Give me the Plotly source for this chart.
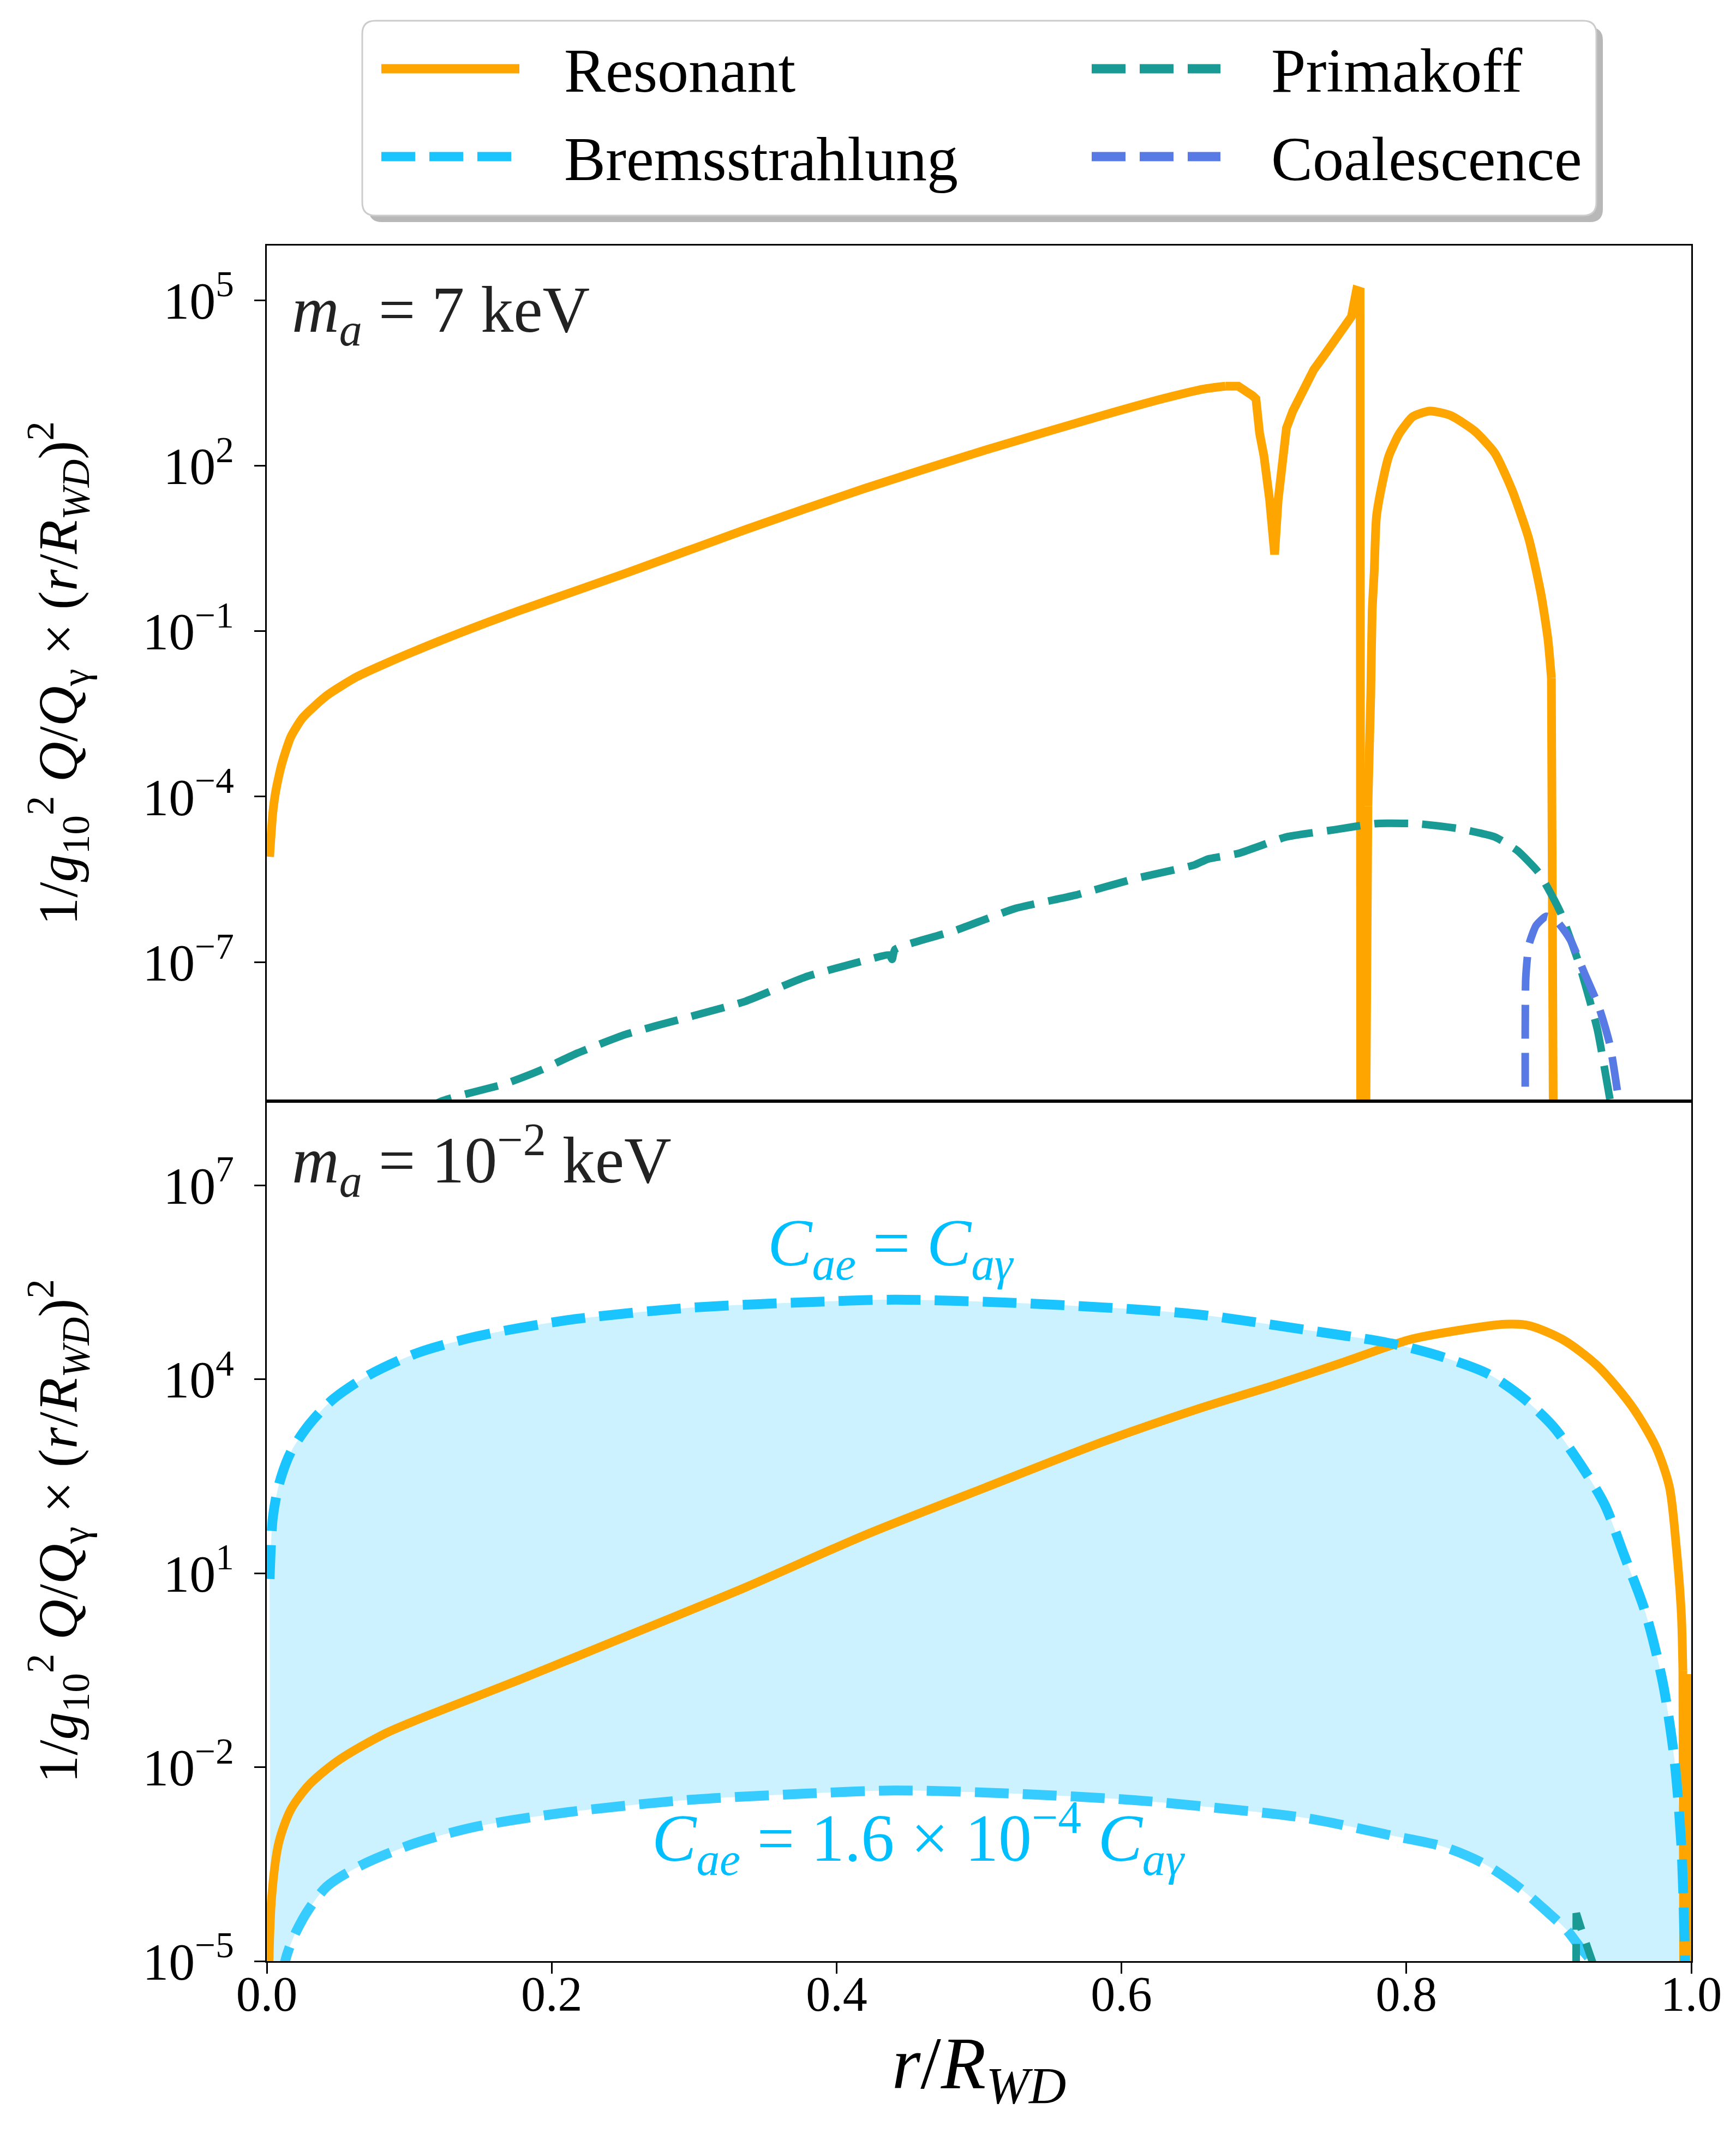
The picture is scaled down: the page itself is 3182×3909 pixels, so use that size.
import plotly.graph_objects as go
from plotly.subplots import make_subplots

# ---------------- data (x = r/R_WD, values given as log10 of the plotted quantity) ----------------
# Top panel, m_a = 7 keV
top_res_r = [0.002, 0.0042, 0.0063, 0.0105, 0.0168, 0.0252, 0.042, 0.063, 0.084, 0.126, 0.176, 0.252,
             0.336, 0.420, 0.504, 0.588, 0.630, 0.658, 0.673, 0.682, 0.692, 0.6944, 0.697, 0.700, 0.704,
             0.7075, 0.710, 0.7124, 0.7158, 0.7203, 0.7251, 0.7299, 0.735, 0.742, 0.7495, 0.7566, 0.7614,
             0.765, 0.7675, 0.768, 0.771, 0.773, 0.775, 0.776, 0.7774, 0.779, 0.7831, 0.7878, 0.795,
             0.8046, 0.8166, 0.831, 0.8478, 0.862, 0.874, 0.886, 0.8946, 0.8994, 0.9018, 0.9035]
top_res_log = [-5.09, -4.30, -3.90, -3.41, -2.92, -2.57, -2.17, -1.83, -1.58, -1.13, -0.64, 0.05,
               0.84, 1.59, 2.28, 2.92, 3.22, 3.39, 3.44, 3.44, 3.27, 3.21, 2.58, 2.18, 1.38,
               0.39, 1.38, 2.08, 2.68, 2.99, 3.24, 3.49, 3.74, 3.99, 4.25, 4.50, 4.70,
               5.18, 5.16, -12.0, -12.0, -4.17, -2.15, -0.64, 0.06, 1.07, 1.68, 2.18, 2.58,
               2.89, 2.99, 2.91, 2.63, 2.23, 1.57, 0.67, -0.34, -1.15, -1.85, -12.0]

top_pri_r = [0.08, 0.1218, 0.168, 0.193, 0.218, 0.252, 0.294, 0.336, 0.378, 0.420, 0.437, 0.439, 0.441,
             0.483, 0.525, 0.567, 0.609, 0.651, 0.6608, 0.682, 0.7158, 0.7495, 0.778, 0.807, 0.8368,
             0.862, 0.878, 0.893, 0.908, 0.922, 0.934, 0.943, 0.95]
top_pri_log = [-10.2, -9.53, -9.20, -8.95, -8.65, -8.31, -8.01, -7.71, -7.27, -6.97, -6.87, -6.95, -6.77,
               -6.43, -6.03, -5.79, -5.49, -5.24, -5.13, -5.03, -4.73, -4.60, -4.49, -4.49, -4.58,
               -4.73, -4.98, -5.38, -6.09, -7.09, -8.21, -9.5, -10.5]

top_coal_r = [0.8836, 0.8838, 0.886, 0.891, 0.898, 0.905, 0.915, 0.925, 0.935, 0.943, 0.949, 0.953]
top_coal_log = [-11.0, -7.30, -6.69, -6.34, -6.17, -6.24, -6.59, -7.20, -7.80, -8.51, -9.5, -10.5]

# Bottom panel, m_a = 1e-2 keV
bot_res_r = [0.001, 0.0034, 0.0084, 0.0168, 0.0294, 0.050, 0.084, 0.126, 0.176, 0.252, 0.336, 0.420,
             0.504, 0.588, 0.655, 0.7063, 0.7542, 0.802, 0.838, 0.8694, 0.886, 0.910, 0.934, 0.958,
             0.975, 0.9846, 0.9893, 0.993, 0.9941, 0.9948, 0.9985, 0.999, 1.0]
bot_res_log = [-5.5, -4.02, -3.17, -2.66, -2.28, -1.90, -1.47, -1.09, -0.66, 0.02, 0.78, 1.59,
               2.32, 3.04, 3.55, 3.90, 4.25, 4.61, 4.76, 4.85, 4.83, 4.61, 4.21, 3.59,
               2.96, 2.34, 1.45, 0.38, -0.51, -6.0, -6.0, -0.56, -0.56]

bot_brem_up_r = [0.002, 0.0042, 0.0084, 0.0168, 0.0294, 0.046, 0.0714, 0.105, 0.147, 0.210, 0.294,
                 0.378, 0.441, 0.525, 0.609, 0.658, 0.7303, 0.790, 0.826, 0.8575, 0.8814, 0.903,
                 0.922, 0.939, 0.953, 0.968, 0.980, 0.988, 0.993, 0.9954, 0.997]
bot_brem_up_log = [0.91, 1.85, 2.36, 2.87, 3.29, 3.68, 4.06, 4.40, 4.66, 4.91, 5.10,
                   5.19, 5.23, 5.18, 5.08, 4.99, 4.76, 4.55, 4.34, 4.08, 3.72, 3.27,
                   2.69, 2.07, 1.27, 0.38, -0.69, -1.85, -3.19, -4.80, -7.0]

bot_brem_low_r = [0.003, 0.0126, 0.025, 0.042, 0.067, 0.105, 0.147, 0.210, 0.294, 0.378, 0.441,
                  0.525, 0.609, 0.658, 0.7303, 0.790, 0.826, 0.855, 0.879, 0.898, 0.913, 0.922,
                  0.9297, 0.96, 0.99, 0.997]
bot_brem_low_log = [-9.0, -5.03, -4.36, -3.85, -3.51, -3.17, -2.92, -2.70, -2.51, -2.41, -2.36,
                    -2.41, -2.51, -2.61, -2.79, -3.06, -3.23, -3.50, -3.86, -4.22, -4.53, -4.79,
                    -5.0, -6.5, -8.5, -10.0]

bot_pri_r = [0.9190, 0.9193, 0.9243, 0.932, 0.94]
bot_pri_log = [-6.0, -4.26, -4.61, -5.1, -6.5]

x_ticks = [0.0, 0.2, 0.4, 0.6, 0.8, 1.0]
x_ticktext = ["0.0", "0.2", "0.4", "0.6", "0.8", "1.0"]
top_yticks_exp = [5, 2, -1, -4, -7]
bot_yticks_exp = [7, 4, 1, -2, -5]

legend_names = ["Resonant", "Bremsstrahlung", "Primakoff", "Coalescence"]


def pw(a):
    return [10 ** v for v in a]


def exp_label(e):
    s = str(e).replace("-", "\u2212")
    return "10<sup>" + s + "</sup>"


# ---------------- layout constants ----------------
W, H = 3182, 3909
ML, MR, MT, MB = 481, 90, 442, 323
PW = W - ML - MR
PH = H - MT - MB
SPLIT = 2010


def px(X):
    return (X - ML) / PW


def py(Y):
    return (H - MB - Y) / PH


FONT = "Liberation Serif"
ORANGE = "#FFA500"
TEAL = "#1A9A95"
BLUE = "#587AE5"
CYAN = "#1AC5FF"
CYAN2 = "#36CCFF"
FILL = "rgba(0,191,255,0.2)"
TXTCYAN = "#00BFFF"
DASH = "62px,26px"
LW = 16

fig = make_subplots(rows=2, cols=1, shared_xaxes=True, vertical_spacing=0)


def line_trace(xs, ys, name, color, width, dash="solid", shape="linear", smoothing=None):
    ln = dict(color=color, width=width, dash=dash, shape=shape)
    if smoothing is not None:
        ln["smoothing"] = smoothing
    return go.Scatter(x=xs, y=pw(ys), mode="lines", name=name, line=ln, showlegend=False)


# ---------------- top panel ----------------
# resonant curve drawn in pieces: smooth parts as splines, sharp features as straight segments
pieces = [(0, 19, "spline"), (18, 42, "linear"), (41, 59, "spline"), (58, len(top_res_r), "linear")]
for a, b, shp in pieces:
    fig.add_trace(line_trace(top_res_r[a:b], top_res_log[a:b], legend_names[0], ORANGE, LW,
                             shape=shp, smoothing=0.6 if shp == "spline" else None), row=1, col=1)
fig.add_trace(line_trace(top_pri_r, top_pri_log, legend_names[2], TEAL, LW - 2, dash=DASH,
                         shape="spline", smoothing=0.5), row=1, col=1)
fig.add_trace(line_trace(top_coal_r, top_coal_log, legend_names[3], BLUE, LW - 2, dash=DASH,
                         shape="spline", smoothing=0.5), row=1, col=1)

# ---------------- bottom panel ----------------
fig.add_trace(go.Scatter(x=bot_brem_low_r, y=pw(bot_brem_low_log), mode="lines",
                         line=dict(width=0, color=FILL, shape="spline", smoothing=0.8),
                         showlegend=False, hoverinfo="skip"), row=2, col=1)
fig.add_trace(go.Scatter(x=bot_brem_up_r, y=pw(bot_brem_up_log), mode="lines", fill="tonexty",
                         fillcolor=FILL, line=dict(width=0, color=FILL, shape="spline", smoothing=0.8),
                         showlegend=False, hoverinfo="skip"), row=2, col=1)
j = 29  # smooth part of the resonant curve before the edge spike
fig.add_trace(line_trace(bot_res_r[:j], bot_res_log[:j], legend_names[0], ORANGE, LW,
                         shape="spline", smoothing=0.8), row=2, col=1)
fig.add_trace(line_trace(bot_res_r[j - 1:], bot_res_log[j - 1:], legend_names[0], ORANGE, LW), row=2, col=1)
fig.add_trace(line_trace(bot_brem_up_r, bot_brem_up_log, legend_names[1], CYAN, LW + 2, dash=DASH,
                         shape="spline", smoothing=0.8), row=2, col=1)
fig.add_trace(line_trace(bot_brem_low_r, bot_brem_low_log, legend_names[1], CYAN2, LW + 2, dash=DASH,
                         shape="spline", smoothing=0.8), row=2, col=1)
fig.add_trace(line_trace(bot_pri_r, bot_pri_log, legend_names[2], TEAL, LW - 2, dash=DASH), row=2, col=1)

# ---------------- axes ----------------
axis_common = dict(showline=True, linecolor="black", linewidth=3, mirror=True, showgrid=False,
                   zeroline=False, tickcolor="black", tickwidth=3, ticklen=20)

ytitle = ("1/<i>g</i><sub>10</sub><sup>2</sup> <i>Q</i>/<i>Q</i><sub>\u03b3</sub> \u00d7 "
          "(<i>r</i>/<i>R</i><sub><i>WD</i></sub>)<sup>2</sup>")

fig.update_xaxes(range=[0, 1], tickfont=dict(family=FONT, size=90, color="black"), **axis_common)
fig.update_xaxes(ticks="", showticklabels=False, row=1, col=1)
fig.update_xaxes(ticks="outside", tickvals=x_ticks, ticktext=x_ticktext, ticklabelstandoff=-40,
                 title=dict(text="<i>r</i>/<i>R</i><sub><i>WD</i></sub>",
                            font=dict(family=FONT, size=135, color="black"), standoff=30),
                 row=2, col=1)

fig.update_yaxes(type="log", ticks="outside", ticklabelstandoff=18,
                 tickfont=dict(family=FONT, size=96, color="black"), **axis_common)
fig.update_yaxes(range=[-9.52, 5.99], tickvals=[10 ** e for e in top_yticks_exp],
                 ticktext=[exp_label(e) for e in top_yticks_exp],
                 title=dict(text=ytitle, font=dict(family=FONT, size=102, color="black"), standoff=86),
                 row=1, col=1)
fig.update_yaxes(range=[-5, 8.30], tickvals=[10 ** e for e in bot_yticks_exp],
                 ticktext=[exp_label(e) for e in bot_yticks_exp],
                 title=dict(text=ytitle, font=dict(family=FONT, size=102, color="black"), standoff=86),
                 row=2, col=1)

split_frac = (H - MB - SPLIT) / PH
fig.update_layout(yaxis=dict(domain=[split_frac, 1]), yaxis2=dict(domain=[0, split_frac]))
fig.update_xaxes(automargin=False)
fig.update_yaxes(automargin=False)

# ---------------- annotations ----------------
ann = []
ann.append(dict(text="<i>m</i><sub><i>a</i></sub> = 7 keV", xref="paper", yref="paper",
                x=px(525), y=py(568), xanchor="left", yanchor="middle", showarrow=False,
                font=dict(family=FONT, size=120, color="#222222")))
ann.append(dict(text="<i>m</i><sub><i>a</i></sub> = 10<sup>\u22122</sup> keV", xref="paper", yref="paper",
                x=px(525), y=py(2118), xanchor="left", yanchor="middle", showarrow=False,
                font=dict(family=FONT, size=120, color="#222222")))
ann.append(dict(text="<i>C</i><sub><i>ae</i></sub> = <i>C</i><sub><i>a\u03b3</i></sub>", xref="paper",
                yref="paper", x=px(1625), y=py(2278), xanchor="center", yanchor="middle",
                showarrow=False, font=dict(family=FONT, size=122, color=TXTCYAN)))
ann.append(dict(text="<i>C</i><sub><i>ae</i></sub> = 1.6 \u00d7 10<sup>\u22124</sup> <i>C</i><sub><i>a\u03b3</i></sub>",
                xref="paper", yref="paper", x=px(1676), y=py(3360), xanchor="center",
                yanchor="middle", showarrow=False, font=dict(family=FONT, size=122, color=TXTCYAN)))

# ---------------- legend (drawn manually to match the long matplotlib handles) ----------------
shapes = []
bx0, by0, bx1, by1, rad = 656, 30, 2918, 387, 24


def rounded_path(x0, y0, x1, y1, r):
    pts = [
        f"M {px(x0 + r)},{py(y0)}",
        f"L {px(x1 - r)},{py(y0)}",
        f"Q {px(x1)},{py(y0)} {px(x1)},{py(y0 + r)}",
        f"L {px(x1)},{py(y1 - r)}",
        f"Q {px(x1)},{py(y1)} {px(x1 - r)},{py(y1)}",
        f"L {px(x0 + r)},{py(y1)}",
        f"Q {px(x0)},{py(y1)} {px(x0)},{py(y1 - r)}",
        f"L {px(x0)},{py(y0 + r)}",
        f"Q {px(x0)},{py(y0)} {px(x0 + r)},{py(y0)}",
        "Z",
    ]
    return " ".join(pts)


shapes.append(dict(type="path", xref="paper", yref="paper", path=rounded_path(bx0 + 12, by0 + 12, bx1 + 12, by1 + 12, rad),
                   fillcolor="rgba(0,0,0,0.28)", line=dict(width=0), layer="above"))
shapes.append(dict(type="path", xref="paper", yref="paper", path=rounded_path(bx0, by0, bx1, by1, rad),
                   fillcolor="white", line=dict(color="#cccccc", width=3), layer="above"))

rows_y = [118, 279]
col_line = [(691, 944), (1993, 2229)]
col_text = [1024, 2320]
entries = [
    (legend_names[0], ORANGE, "solid", 0, 0),
    (legend_names[2], TEAL, DASH, 1, 0),
    (legend_names[1], CYAN, DASH, 0, 1),
    (legend_names[3], BLUE, DASH, 1, 1),
]
for name, color, dash, c, r in entries:
    x0, x1 = col_line[c]
    shapes.append(dict(type="line", xref="paper", yref="paper", x0=px(x0), x1=px(x1),
                       y0=py(rows_y[r]), y1=py(rows_y[r]), layer="above",
                       line=dict(color=color, width=17, dash=dash)))
    ann.append(dict(text=name, xref="paper", yref="paper", x=px(col_text[c]), y=py(rows_y[r] + 4),
                    xanchor="left", yanchor="middle", showarrow=False,
                    font=dict(family=FONT, size=114, color="black")))

fig.update_layout(
    width=W, height=H,
    margin=dict(l=ML, r=MR, t=MT, b=MB),
    paper_bgcolor="white", plot_bgcolor="white",
    showlegend=False,
    font=dict(family=FONT, color="black"),
    annotations=ann,
    shapes=shapes,
)

fig.write_html("out.html")
